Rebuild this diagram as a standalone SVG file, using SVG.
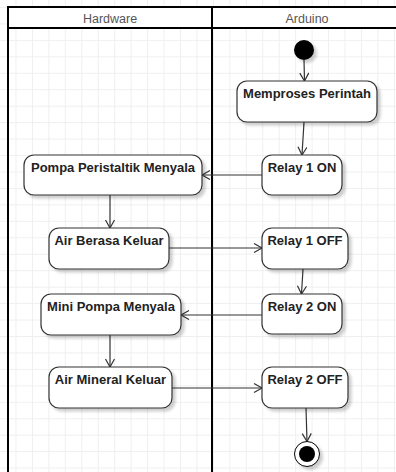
<svg xmlns="http://www.w3.org/2000/svg" width="396" height="472" viewBox="0 0 396 472">
  <style>
    .node rect { fill: #ffffff; stroke: #333333; stroke-width: 1.2; }
    .lbl { font-family: "Liberation Sans", Arial, sans-serif; font-size: 13px; font-weight: bold; fill: #222222; text-anchor: middle; }
    .hdr { font-family: "Liberation Sans", Arial, sans-serif; font-size: 12.5px; fill: #555555; text-anchor: middle; }
    .edge { stroke: #333333; stroke-width: 1.2; fill: none; marker-end: url(#arr); }
    .lane { stroke: #000000; stroke-width: 2; fill: none; }
  </style>
  <defs>
    <pattern id="grid" patternUnits="userSpaceOnUse" x="-0.95" y="7" width="16.45" height="16.45">
      <rect x="0" y="0" width="1" height="16.45" fill="#efefef"/>
      <rect x="0" y="0" width="16.45" height="1" fill="#efefef"/>
    </pattern>
    <filter id="sh" x="-20%" y="-20%" width="150%" height="160%">
      <feGaussianBlur in="SourceAlpha" stdDeviation="1.5"/>
      <feOffset dx="3" dy="3" result="b"/>
      <feComponentTransfer><feFuncA type="linear" slope="0.2"/></feComponentTransfer>
      <feMerge><feMergeNode/><feMergeNode in="SourceGraphic"/></feMerge>
    </filter>
    <marker id="arr" markerUnits="userSpaceOnUse" markerWidth="12" markerHeight="12" refX="9" refY="5" orient="auto">
      <path d="M1,0.5 L9,5 L1,9.5" fill="none" stroke="#333333" stroke-width="1.2"/>
    </marker>
  </defs>

  <rect x="0" y="0" width="396" height="472" fill="#ffffff"/>
  <rect x="0" y="0" width="396" height="472" fill="url(#grid)"/>

  <g id="swimlanes">
    <rect x="8" y="7" width="390" height="21" fill="#ffffff"/>
    <line class="lane" x1="7" y1="7" x2="398" y2="7"/>
    <line class="lane" x1="8" y1="28" x2="398" y2="28"/>
    <line class="lane" x1="8" y1="6" x2="8" y2="472"/>
    <line class="lane" x1="212" y1="6" x2="212" y2="472"/>
    <text class="hdr" x="110" y="23">Hardware</text>
    <text class="hdr" x="307" y="23">Arduino</text>
  </g>

  <g id="connectors">
    <line class="edge" x1="304" y1="60" x2="304.5" y2="81"/>
    <line class="edge" x1="304" y1="122" x2="302" y2="155"/>
    <line class="edge" x1="262" y1="175" x2="202" y2="175"/>
    <line class="edge" x1="110" y1="195" x2="110" y2="228"/>
    <line class="edge" x1="169" y1="248" x2="262" y2="248"/>
    <line class="edge" x1="303" y1="269" x2="301.5" y2="294"/>
    <line class="edge" x1="262" y1="315" x2="181" y2="315"/>
    <line class="edge" x1="110" y1="335" x2="110" y2="367"/>
    <line class="edge" x1="172" y1="388" x2="262" y2="388"/>
    <line class="edge" x1="306" y1="408" x2="307" y2="441.5"/>
  </g>

  <g id="start">
    <circle cx="304" cy="50" r="10" fill="#000000" filter="url(#sh)"/>
  </g>
  <g id="memproses" class="node">
    <rect x="237" y="81" width="140" height="41" rx="10" filter="url(#sh)"/>
    <text class="lbl" x="307" y="98">Memproses Perintah</text>
  </g>
  <g id="pompa" class="node">
    <rect x="24" y="155" width="178" height="40" rx="10" filter="url(#sh)"/>
    <text class="lbl" x="113" y="172">Pompa Peristaltik Menyala</text>
  </g>
  <g id="relay1on" class="node">
    <rect x="262" y="155" width="80" height="40" rx="10" filter="url(#sh)"/>
    <text class="lbl" x="302" y="172">Relay 1 ON</text>
  </g>
  <g id="airberasa" class="node">
    <rect x="49" y="228" width="120" height="41" rx="10" filter="url(#sh)"/>
    <text class="lbl" x="109" y="245">Air Berasa Keluar</text>
  </g>
  <g id="relay1off" class="node">
    <rect x="262" y="228" width="86" height="41" rx="10" filter="url(#sh)"/>
    <text class="lbl" x="305" y="245">Relay 1 OFF</text>
  </g>
  <g id="minipompa" class="node">
    <rect x="41" y="294" width="140" height="41" rx="10" filter="url(#sh)"/>
    <text class="lbl" x="111" y="311">Mini Pompa Menyala</text>
  </g>
  <g id="relay2on" class="node">
    <rect x="262" y="294" width="80" height="40" rx="10" filter="url(#sh)"/>
    <text class="lbl" x="302" y="311">Relay 2 ON</text>
  </g>
  <g id="airmineral" class="node">
    <rect x="49" y="367" width="123" height="41" rx="10" filter="url(#sh)"/>
    <text class="lbl" x="110.5" y="384">Air Mineral Keluar</text>
  </g>
  <g id="relay2off" class="node">
    <rect x="262" y="367" width="86" height="41" rx="10" filter="url(#sh)"/>
    <text class="lbl" x="305" y="384">Relay 2 OFF</text>
  </g>
  <g id="end">
    <circle cx="307" cy="454" r="12.5" fill="#ffffff" stroke="#000000" stroke-width="1" filter="url(#sh)"/>
    <circle cx="307" cy="454" r="8" fill="#000000"/>
  </g>
</svg>
